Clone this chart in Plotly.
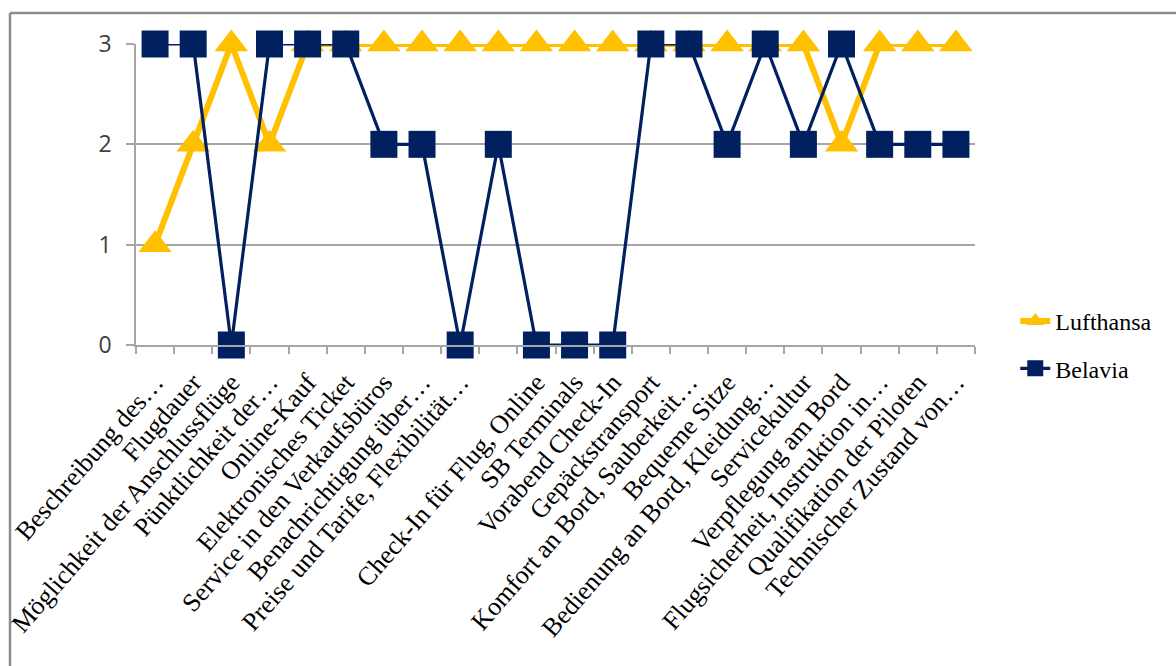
import plotly.graph_objects as go

categories = [
    "Beschreibung des…", "Flugdauer", "Möglichkeit der Anschlussflüge",
    "Pünktlichkeit der…", "Online-Kauf", "Elektronisches Ticket",
    "Service in den Verkaufsbüros", "Benachrichtigung über…",
    "Preise und Tarife, Flexibilität…", " ", "Check-In für Flug, Online",
    "SB Terminals", "Vorabend Check-In", "Gepäckstransport",
    "Komfort an Bord, Sauberkeit…", "Bequeme Sitze",
    "Bedienung an Bord, Kleidung…", "Servicekultur", "Verpflegung am Bord",
    "Flugsicherheit, Instruktion in…", "Qualifikation der Piloten",
    "Technischer Zustand von…",
]
lufthansa = [1, 2, 3, 2, 3, 3, 3, 3, 3, 3, 3, 3, 3, 3, 3, 3, 3, 3, 2, 3, 3, 3]
belavia = [3, 3, 0, 3, 3, 3, 2, 2, 0, 2, 0, 0, 0, 3, 3, 2, 3, 2, 3, 2, 2, 2]
y_ticks = [0, 1, 2, 3]

GOLD = "#FFC000"
NAVY = "#002060"
GRID = "#A6A6A6"

fig = go.Figure()
fig.add_trace(go.Scatter(
    x=categories, y=lufthansa, name="Lufthansa", mode="lines+markers",
    line=dict(color=GOLD, width=6),
    marker=dict(symbol="triangle-up", size=29, color=GOLD),
    cliponaxis=False, legendgroup="a",
))
fig.add_trace(go.Scatter(
    x=categories, y=belavia, name="Belavia", mode="lines+markers",
    line=dict(color=NAVY, width=3.2),
    marker=dict(symbol="square", size=27, color=NAVY),
    cliponaxis=False, legendgroup="b",
))

fig.update_layout(
    width=1176, height=666,
    margin=dict(l=136, r=201, t=44, b=321, autoexpand=False),
    paper_bgcolor="white", plot_bgcolor="white",
    showlegend=True,
    legend=dict(
        x=1.048, xanchor="left", y=0.0, yanchor="middle",
        font=dict(family="Liberation Serif", size=24, color="#000000"),
        tracegroupgap=13, bgcolor="rgba(0,0,0,0)",
    ),
    xaxis=dict(
        type="category", range=[-0.5, len(categories) - 0.5],
        automargin=False,
        tickson="boundaries", ticks="outside", ticklen=7,
        tickcolor=GRID, tickwidth=1.5, showline=True, linecolor=GRID,
        linewidth=1.5, showgrid=False, zeroline=False,
        tickangle=-49,
        tickfont=dict(family="Liberation Serif", size=26, color="#000000"),
        ticklabelstandoff=10,
    ),
    yaxis=dict(
        range=[0, 3], tickvals=y_ticks, ticks="outside", ticklen=8,
        automargin=False,
        tickcolor=GRID, tickwidth=1.5, showline=True, linecolor=GRID,
        linewidth=1.5, showgrid=True, gridcolor=GRID, gridwidth=1.5,
        zeroline=False,
        tickfont=dict(family="Open Sans", size=23, color="#404040"),
        ticklabelstandoff=10,
    ),
    shapes=[
        dict(type="line", xref="paper", yref="paper",
             x0=(10 - 136) / 839, x1=1.5, y0=(345 - 13) / 301, y1=(345 - 13) / 301,
             line=dict(color="#8C8C8C", width=2.5)),
        dict(type="line", xref="paper", yref="paper",
             x0=(10 - 136) / 839, x1=(10 - 136) / 839, y0=(345 - 13) / 301, y1=-2,
             line=dict(color="#8C8C8C", width=2.5)),
    ],
)

fig.write_html("out.html")
